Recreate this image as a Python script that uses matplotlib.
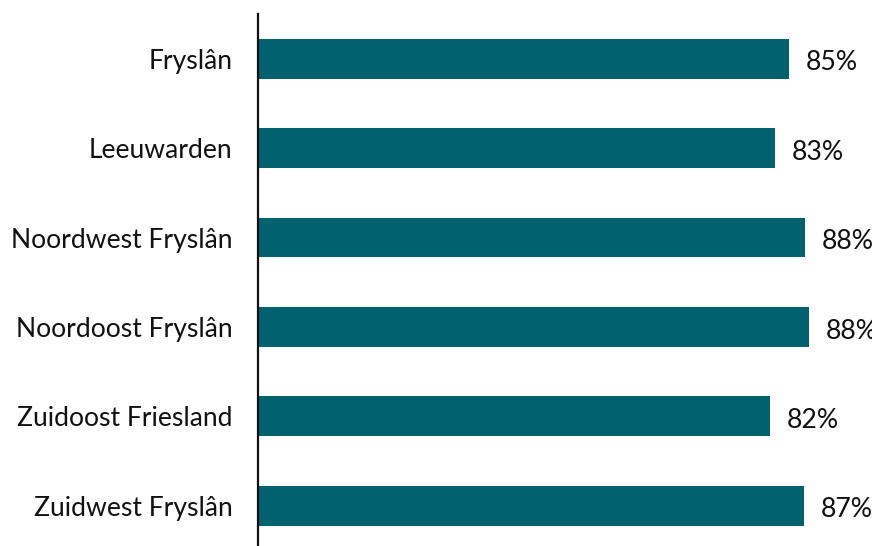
import matplotlib
matplotlib.use("Agg")
import matplotlib.pyplot as plt

regions = ["Fryslân", "Leeuwarden", "Noordwest Fryslân", "Noordoost Fryslân",
           "Zuidoost Friesland", "Zuidwest Fryslân"]
values = [85.0, 82.7, 87.5, 88.2, 81.9, 87.3]
labels = ["85%", "83%", "88%", "88%", "82%", "87%"]

plt.rcParams['font.family'] = ['Lato', 'DejaVu Sans']

W, H = 872, 546
fig = plt.figure(figsize=(W / 100, H / 100), dpi=100)
# axes: left edge at x=258, top at y=14, one category = ~89.4 px
left, top, pitch = 258, 14, 89.4
bottom = top + 6 * pitch
ax = fig.add_axes([left / W, (H - bottom) / H, (W - left) / W, (bottom - top) / H])

ypos = list(range(len(regions)))
ax.barh(ypos, values, height=0.447, color='#00626f')
# value labels run off the right edge, as in the original
for y, v, lab in zip(ypos, values, labels):
    ax.text(v + 2.7, y + 0.02, lab, va='center_baseline', ha='left',
            fontsize=19.2, color='#111111')

ax.set_ylim(len(regions) - 0.5, -0.5)
ax.set_xlim(0, (W - left) / 6.25)
ax.set_yticks(ypos)
ax.set_yticklabels(regions, fontsize=19.1, color='#111111')
ax.tick_params(axis='y', length=0, pad=18.5)
ax.set_xticks([])
for s in ['top', 'right', 'bottom']:
    ax.spines[s].set_visible(False)
ax.spines['left'].set_linewidth(1.6)
ax.spines['left'].set_color('#111111')

fig.savefig("out.png", dpi=100)
